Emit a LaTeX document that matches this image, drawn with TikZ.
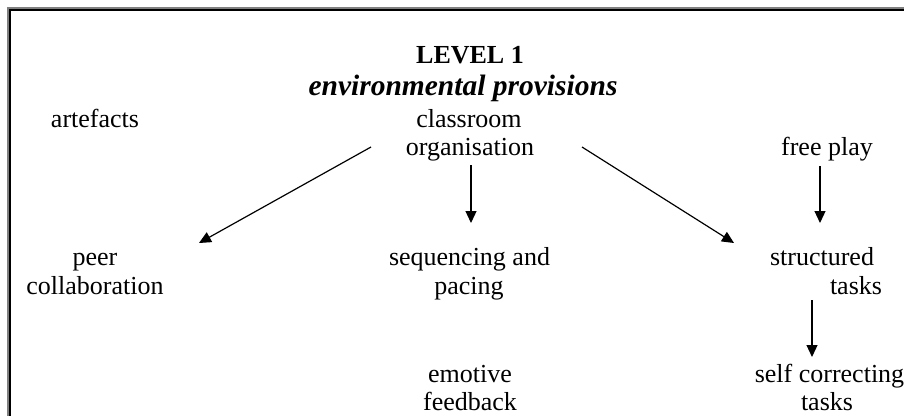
\documentclass[tikz,border=0pt]{standalone}
\usepackage{fontspec}
\setmainfont{Liberation Serif}
\usetikzlibrary{arrows.meta}
\begin{document}
\begin{tikzpicture}[x=1pt,y=-1pt,
  lbl/.style={inner sep=0pt, anchor=base, font=\fontsize{26}{30}\selectfont},
  arr/.style={line width=1.2pt, -{Triangle[length=12pt,width=11pt]}}]
\useasboundingbox (0,0) rectangle (904,416);
\fill[white] (0,0) rectangle (904,416);
% frame (cropped: only left and top edges visible)
\draw[black!50, line width=1.8pt] (7.9,416) -- (7.9,7.9) -- (904,7.9);
\draw[line width=2pt] (9.8,416) -- (9.8,9.8) -- (904,9.8);
% texts
\node[lbl, font=\fontsize{26}{30}\selectfont\bfseries] (lev) at (470,63) {LEVEL 1};
\node[lbl, font=\fontsize{29.5}{32}\selectfont\bfseries\itshape] (env) at (463,95) {environmental provisions};
\node[lbl] (art) at (95,127) {artefacts};
\node[lbl] (cls1) at (469,127) {classroom};
\node[lbl] (cls2) at (470,155) {organisation};
\node[lbl] (free) at (827,155) {free play};
\node[lbl] (peer1) at (95,265) {peer};
\node[lbl] (peer2) at (95,294) {collaboration};
\node[lbl] (seq1) at (469.5,265) {sequencing and};
\node[lbl] (seq2) at (469,294) {pacing};
\node[lbl] (str1) at (822,265) {structured};
\node[lbl] (str2) at (856,294) {tasks};
\node[lbl] (emo1) at (470,382) {emotive};
\node[lbl] (emo2) at (470,410) {feedback};
\node[lbl] (self1) at (829.5,382) {self correcting};
\node[lbl] (self2) at (827,410) {tasks};
% arrow end points
\coordinate (aL0) at (371,147);
\coordinate (aL1) at (199,243);
\coordinate (aR0) at (582,147);
\coordinate (aR1) at (734,243);
\coordinate (aC0) at (471,165);
\coordinate (aC1) at (471,223);
\coordinate (aF0) at (820,166);
\coordinate (aF1) at (820,223);
\coordinate (aS0) at (812,300);
\coordinate (aS1) at (812,357);
\draw[arr] (aL0) -- (aL1);
\draw[arr] (aR0) -- (aR1);
\draw[arr] (aC0) -- (aC1);
\draw[arr] (aF0) -- (aF1);
\draw[arr] (aS0) -- (aS1);
\end{tikzpicture}
\end{document}
